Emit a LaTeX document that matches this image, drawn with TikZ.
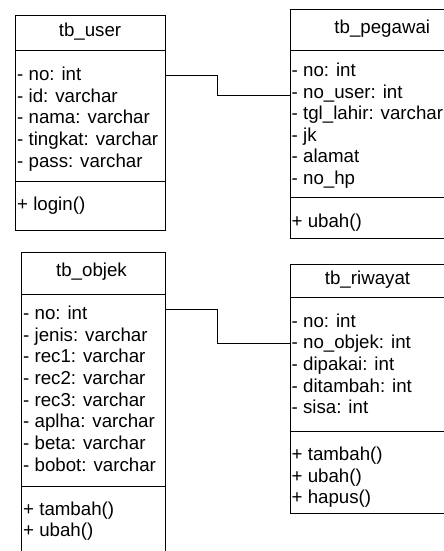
\documentclass[tikz,border=0pt]{standalone}
\usepackage{fontspec}
\setmainfont{Liberation Sans}
\begin{document}
\begin{tikzpicture}[x=1pt,y=-1pt,
  classbox/.style={draw=black,line width=1pt,rectangle,inner sep=0pt,anchor=north west},
  sepline/.style={draw=black,line width=1pt},
  conn/.style={draw=black,line width=1pt},
  attr/.style={anchor=base west,inner sep=0pt,font=\fontsize{18.7}{22}\selectfont},
  ttl/.style={anchor=base,inner sep=0pt,font=\fontsize{18.7}{22}\selectfont}]
\useasboundingbox (0,0) rectangle (444,551);
\clip (0,0) rectangle (444,551);
% ---------- tb_user ----------
\node[classbox,minimum width=150pt,minimum height=215.3pt] (user) at (15,14.7) {};
\draw[sepline] (user.west |- 0,51) -- (user.east |- 0,51);
\draw[sepline] (user.west |- 0,181) -- (user.east |- 0,181);
\node[ttl] (usert) at (90,36.7) {tb\_user};
\node[attr] (u1) at (17,80.7) {- no: int};
\node[attr] (u2) at (17,102.3) {- id: varchar};
\node[attr] (u3) at (17,123.9) {- nama: varchar};
\node[attr] (u4) at (17,145.5) {- tingkat: varchar};
\node[attr] (u5) at (17,167.1) {- pass: varchar};
\node[attr] (u6) at (17,210.5) {+ login()};
% ---------- tb_pegawai ----------
\node[classbox,minimum width=185.5pt,minimum height=229pt] (peg) at (289.5,9.3) {};
\draw[sepline] (peg.west |- 0,50.7) -- (peg.east |- 0,50.7);
\draw[sepline] (peg.west |- 0,197.7) -- (peg.east |- 0,197.7);
\node[ttl] (pegt) at (382.25,33.3) {tb\_pegawai};
\node[attr] (p1) at (291.5,76.7) {- no: int};
\node[attr] (p2) at (291.5,98.2) {- no\_user: int};
\node[attr] (p3) at (291.5,119.7) {- tgl\_lahir: varchar};
\node[attr] (p4) at (291.5,141.2) {- jk};
\node[attr] (p5) at (291.5,162.7) {- alamat};
\node[attr] (p6) at (291.5,184.2) {- no\_hp};
\node[attr] (p7) at (291.5,227.2) {+ ubah()};
% ---------- tb_objek ----------
\node[classbox,minimum width=143.5pt,minimum height=310pt] (obj) at (21,251.7) {};
\draw[sepline] (obj.west |- 0,294) -- (obj.east |- 0,294);
\draw[sepline] (obj.west |- 0,486) -- (obj.east |- 0,486);
\node[ttl] (objt) at (91.5,276) {tb\_objek};
\node[attr] (o1) at (23,319.3) {- no: int};
\node[attr] (o2) at (23,341) {- jenis: varchar};
\node[attr] (o3) at (23,362.6) {- rec1: varchar};
\node[attr] (o4) at (23,384.3) {- rec2: varchar};
\node[attr] (o5) at (23,406) {- rec3: varchar};
\node[attr] (o6) at (23,427.6) {- aplha: varchar};
\node[attr] (o7) at (23,449.3) {- beta: varchar};
\node[attr] (o8) at (23,471) {- bobot: varchar};
\node[attr] (o9) at (23,515) {+ tambah()};
\node[attr] (o10) at (23,536.6) {+ ubah()};
% ---------- tb_riwayat ----------
\node[classbox,minimum width=156pt,minimum height=249.3pt] (riw) at (289.5,264) {};
\draw[sepline] (riw.west |- 0,297) -- (riw.east |- 0,297);
\draw[sepline] (riw.west |- 0,431) -- (riw.east |- 0,431);
\node[ttl] (riwt) at (367.5,284.3) {tb\_riwayat};
\node[attr] (r1) at (291.5,327.3) {- no: int};
\node[attr] (r2) at (291.5,348.9) {- no\_objek: int};
\node[attr] (r3) at (291.5,370.5) {- dipakai: int};
\node[attr] (r4) at (291.5,392.1) {- ditambah: int};
\node[attr] (r5) at (291.5,413.7) {- sisa: int};
\node[attr] (r6) at (291.5,460.5) {+ tambah()};
\node[attr] (r7) at (291.5,482.1) {+ ubah()};
\node[attr] (r8) at (291.5,503.7) {+ hapus()};
% ---------- connectors ----------
\coordinate (k1) at (217.5,75.7);
\coordinate (k1b) at (217.5,95);
\draw[conn] (user.east |- k1) -- (k1) -- (k1b) -- (peg.west |- k1b);
\coordinate (k2) at (217.3,309.3);
\coordinate (k2b) at (217.3,343.3);
\draw[conn] (obj.east |- k2) -- (k2) -- (k2b) -- (riw.west |- k2b);
\end{tikzpicture}
\end{document}
